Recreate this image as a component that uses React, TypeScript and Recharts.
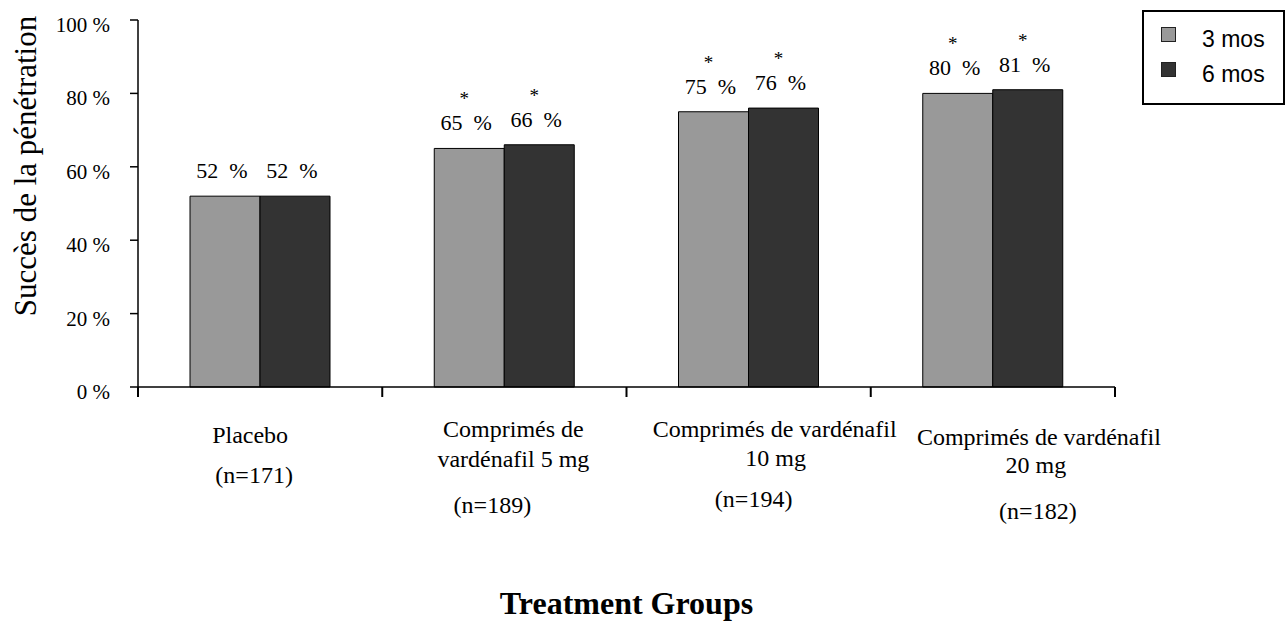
import React from 'react';
import { BarChart, Bar, XAxis, YAxis, Legend, LabelList, Label } from 'recharts';

const categories = [
  'Placebo',
  'Comprimés de vardénafil 5 mg',
  'Comprimés de vardénafil 10 mg',
  'Comprimés de vardénafil 20 mg',
];
const tickLines = [
  ['Placebo', '(n=171)'],
  ['Comprimés de', 'vardénafil 5 mg', '(n=189)'],
  ['Comprimés de vardénafil', '10 mg', '(n=194)'],
  ['Comprimés de vardénafil', '20 mg', '(n=182)'],
];
const months3 = [52, 65, 75, 80];
const months6 = [52, 66, 76, 81];
const significant = [false, true, true, true];
const yTicks = [0, 20, 40, 60, 80, 100];
const seriesNames = ['3 mos', '6 mos'];
const seriesColors = ['#999999', '#333333'];

const data = categories.map((c, i) => ({
  name: c,
  m3: months3[i],
  m6: months6[i],
}));

// text layout for category labels: [dx from category centre, baseline offset below axis]
const TICK_LAYOUT = [
  [[-10, 56], [-6, 96]],
  [[9, 50], [9, 80], [-12, 126]],
  [[26, 50], [27, 79], [5, 120]],
  [[46, 58], [43, 86], [45, 132]],
];

const SERIF = '"Liberation Serif", "Times New Roman", serif';
const SANS = '"Liberation Sans", Arial, sans-serif';

const CategoryTick = (props: any) => {
  const { x, y, payload } = props;
  const idx = payload.index ?? categories.indexOf(payload.value);
  const half = payload.offset || 0;
  const lines = tickLines[idx] || [];
  const layout = TICK_LAYOUT[idx] || [];
  return (
    <g>
      <line x1={x - half} x2={x - half} y1={y} y2={y + 10} stroke="#000" strokeWidth={2} />
      {idx === categories.length - 1 ? (
        <line x1={x + half} x2={x + half} y1={y} y2={y + 10} stroke="#000" strokeWidth={2} />
      ) : null}
      {lines.map((t, i) => (
        <text
          key={i}
          x={x + (layout[i] ? layout[i][0] : 0)}
          y={y + (layout[i] ? layout[i][1] : 0)}
          textAnchor="middle"
          fontFamily={SERIF}
          fontSize={24}
          fill="#000"
        >
          {t}
        </text>
      ))}
    </g>
  );
};

const YTick = (props: any) => {
  const { x, y, payload } = props;
  return (
    <text x={x} y={y + 12} textAnchor="end" fontFamily={SERIF} fontSize={21} fill="#000">
      {`${payload.value} %`}
    </text>
  );
};

const makeValueLabel = (dx: number) => (props: any) => {
  const { x, y, width, value, index } = props;
  const cx = x + width / 2 + dx;
  const base = y - 18;
  return (
    <g>
      <text x={cx} y={base} textAnchor="middle" fontFamily={SERIF} fontSize={22} fill="#000">
        {`${value}\u00a0\u00a0%`}
      </text>
      {significant[index] ? (
        <text x={cx - 2} y={base - 25} textAnchor="middle" fontFamily={SERIF} fontSize={19} fill="#000">
          *
        </text>
      ) : null}
    </g>
  );
};

const LegendBox = (props: any) => {
  const payload = props.payload || [];
  return (
    <div
      style={{
        position: 'relative',
        width: 143,
        height: 95,
        border: '2px solid #000',
        boxSizing: 'border-box',
        background: '#fff',
      }}
    >
      {payload.map((p: any, i: number) => (
        <React.Fragment key={i}>
          <div
            style={{
              position: 'absolute',
              left: 17,
              top: 15 + i * 35,
              width: 13,
              height: 13,
              background: p.color,
              border: '1px solid #222',
            }}
          />
          <div
            style={{
              position: 'absolute',
              left: 58,
              top: 16 + i * 35,
              fontFamily: SANS,
              fontSize: 23,
              lineHeight: '22px',
              color: '#000',
              whiteSpace: 'nowrap',
            }}
          >
            {p.value}
          </div>
        </React.Fragment>
      ))}
    </div>
  );
};

export default function App() {
  return (
    <div style={{ position: 'absolute', left: 0, top: 0, width: 1288, height: 622, background: '#fff' }}>
      <BarChart
        width={1288}
        height={622}
        data={data}
        margin={{ top: 20, right: 173, bottom: 25, left: 78 }}
        barGap={0}
        barSize={70}
      >
        <XAxis
          dataKey="name"
          height={210}
          interval={0}
          tickLine={false}
          tickSize={0}
          tickMargin={0}
          axisLine={{ stroke: '#000', strokeWidth: 1.5 }}
          tick={<CategoryTick />}
        >
          <Label
            content={(p: any) => {
              const vb = p.viewBox || { x: 138, y: 387, width: 977 };
              return (
                <text
                  x={vb.x + vb.width / 2}
                  y={vb.y + 227}
                  textAnchor="middle"
                  fontFamily={SERIF}
                  fontSize={32}
                  fontWeight="bold"
                  fill="#000"
                >
                  Treatment Groups
                </text>
              );
            }}
          />
        </XAxis>
        <YAxis
          width={60}
          domain={[0, 100]}
          ticks={yTicks}
          interval={0}
          tickSize={8}
          tickMargin={20}
          axisLine={{ stroke: '#000', strokeWidth: 1.5 }}
          tickLine={{ stroke: '#000', strokeWidth: 1.5 }}
          tick={<YTick />}
        >
          <Label
            content={() => (
              <text
                x={25}
                y={166}
                transform="rotate(-90, 25, 166)"
                textAnchor="middle"
                dominantBaseline="central"
                fontFamily={SERIF}
                fontSize={31}
                fill="#000"
              >
                Succès de la pénétration
              </text>
            )}
          />
        </YAxis>
        <Legend
          layout="vertical"
          align="center"
          verticalAlign="middle"
          wrapperStyle={{ top: 10, left: 1142, width: 143, height: 95 }}
          content={<LegendBox />}
        />
        <Bar
          dataKey="m3"
          name={seriesNames[0]}
          fill={seriesColors[0]}
          stroke="#000"
          strokeWidth={1}
          isAnimationActive={false}
        >
          <LabelList dataKey="m3" content={makeValueLabel(-3)} />
        </Bar>
        <Bar
          dataKey="m6"
          name={seriesNames[1]}
          fill={seriesColors[1]}
          stroke="#000"
          strokeWidth={1}
          isAnimationActive={false}
        >
          <LabelList dataKey="m6" content={makeValueLabel(-3)} />
        </Bar>
      </BarChart>
    </div>
  );
}
